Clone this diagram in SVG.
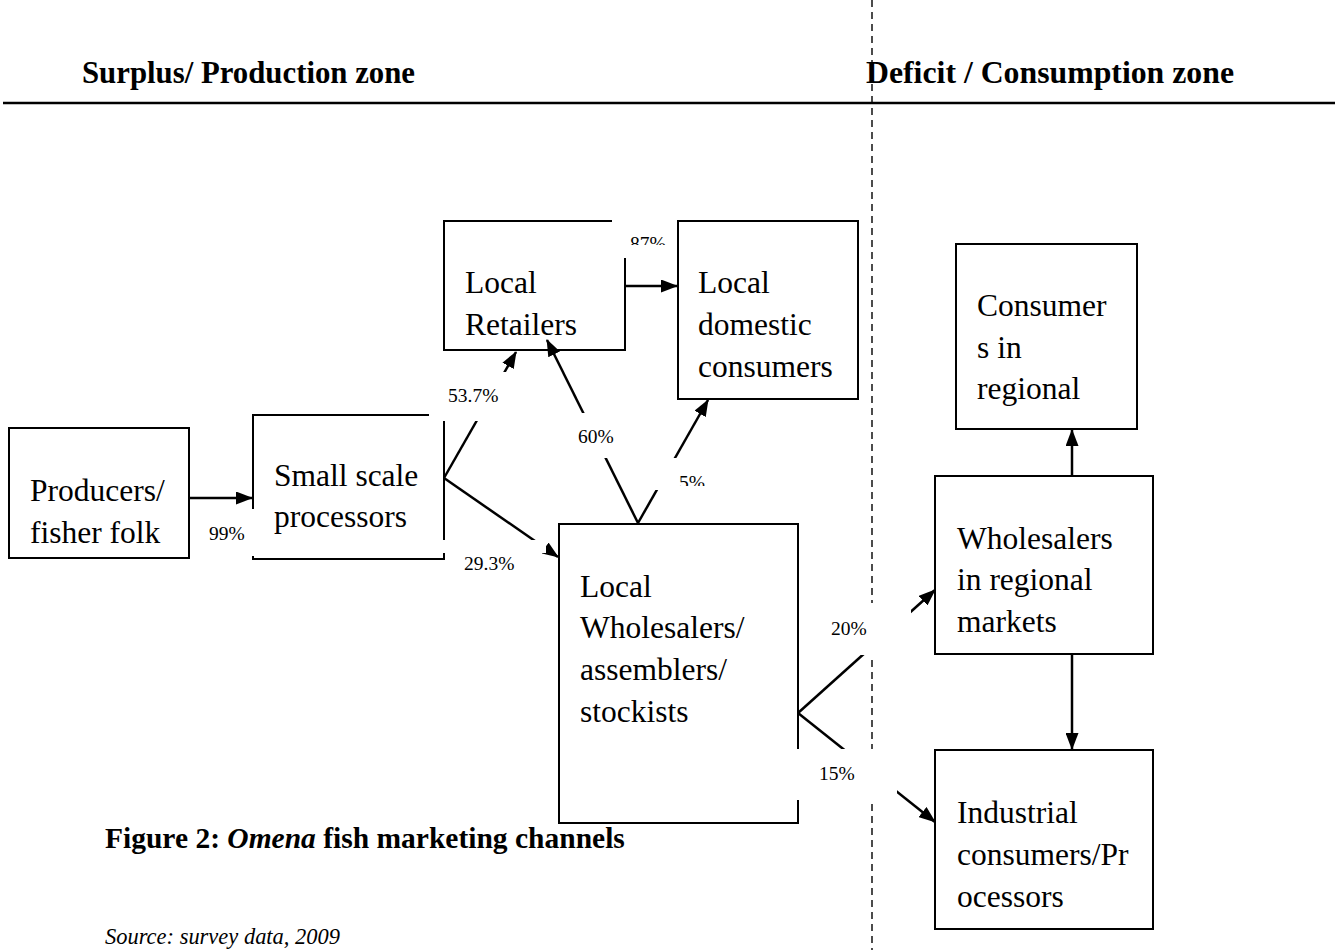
<svg xmlns="http://www.w3.org/2000/svg" width="1340" height="950" viewBox="0 0 1340 950">
<style>
.box{fill:none;stroke:#000;stroke-width:2}
.node{font-family:"Liberation Serif","Times New Roman",serif;font-size:31.5px;fill:#000}
.lbl{font-family:"Liberation Serif","Times New Roman",serif;font-size:19.5px;fill:#000}
.hdr{font-family:"Liberation Serif","Times New Roman",serif;font-size:31.5px;font-weight:bold;fill:#000}
.con{stroke:#000;stroke-width:2.5;fill:none;marker-end:url(#ah)}
.mask{fill:#fff;stroke:none}
</style>
<defs>
<marker id="ah" markerUnits="userSpaceOnUse" viewBox="0 0 17 13" markerWidth="17" markerHeight="13" refX="16" refY="6.5" orient="auto">
<path d="M0,0 L17,6.5 L0,13 z" fill="#000"/>
</marker>
<clipPath id="c87"><rect x="600" y="200" width="90" height="45"/></clipPath>
<clipPath id="c5"><rect x="650" y="450" width="80" height="36"/></clipPath>
</defs>
<rect width="1340" height="950" fill="#fff"/>

<g id="headers">
<text class="hdr" x="82" y="83" textLength="333" lengthAdjust="spacingAndGlyphs">Surplus/ Production zone</text>
<text class="hdr" x="866" y="83" textLength="368" lengthAdjust="spacingAndGlyphs">Deficit / Consumption zone</text>
<line x1="3" y1="103" x2="1335" y2="103" stroke="#000" stroke-width="2.5"/>
</g>

<g id="divider">
<line x1="872" y1="0" x2="872" y2="950" stroke="#000" stroke-width="1.4" stroke-dasharray="7,5"/>
</g>

<g id="producers">
<rect class="box" x="9" y="428" width="180" height="130"/>
<text class="node" x="30" y="501">Producers/</text>
<text class="node" x="30" y="543">fisher folk</text>
</g>

<g id="processors">
<rect class="box" x="253" y="415" width="191" height="144"/>
<text class="node" x="274" y="486">Small scale</text>
<text class="node" x="274" y="527">processors</text>
</g>

<g id="retailers">
<rect class="box" x="444" y="221" width="181" height="129"/>
<text class="node" x="465" y="293">Local</text>
<text class="node" x="465" y="335">Retailers</text>
</g>

<g id="domestic">
<rect class="box" x="678" y="221" width="180" height="178"/>
<text class="node" x="698" y="293">Local</text>
<text class="node" x="698" y="335">domestic</text>
<text class="node" x="698" y="377">consumers</text>
</g>

<g id="wholesalers">
<rect class="box" x="559" y="524" width="239" height="299"/>
<text class="node" x="580" y="597">Local</text>
<text class="node" x="580" y="638">Wholesalers/</text>
<text class="node" x="580" y="680">assemblers/</text>
<text class="node" x="580" y="722">stockists</text>
</g>

<g id="consumers-regional">
<rect class="box" x="956" y="244" width="181" height="185"/>
<text class="node" x="977" y="316">Consumer</text>
<text class="node" x="977" y="358">s in</text>
<text class="node" x="977" y="399">regional</text>
</g>

<g id="wholesalers-regional">
<rect class="box" x="935" y="476" width="218" height="178"/>
<text class="node" x="957" y="549">Wholesalers</text>
<text class="node" x="957" y="590">in regional</text>
<text class="node" x="957" y="632">markets</text>
</g>

<g id="industrial">
<rect class="box" x="935" y="750" width="218" height="179"/>
<text class="node" x="957" y="823">Industrial</text>
<text class="node" x="957" y="865">consumers/Pr</text>
<text class="node" x="957" y="907">ocessors</text>
</g>

<g id="connectors">
<line class="con" x1="189" y1="498" x2="252" y2="498"/>
<line class="con" x1="444" y1="478" x2="516" y2="352"/>
<line class="con" x1="444" y1="478" x2="558" y2="557"/>
<line class="con" x1="625" y1="286" x2="677" y2="286"/>
<line class="con" x1="638" y1="523" x2="547" y2="340"/>
<line class="con" x1="638" y1="523" x2="708" y2="400"/>
<line class="con" x1="798" y1="713" x2="935" y2="590"/>
<line class="con" x1="798" y1="713" x2="935" y2="822"/>
<line class="con" x1="1072" y1="476" x2="1072" y2="430"/>
<line class="con" x1="1072" y1="654" x2="1072" y2="749"/>
</g>

<g id="labels">
<rect class="mask" x="612" y="213" width="65" height="45"/>
<text class="lbl" x="630" y="250" clip-path="url(#c87)">87%</text>
<rect class="mask" x="429" y="372" width="83" height="49"/>
<text class="lbl" x="448" y="402">53.7%</text>
<rect class="mask" x="570" y="413" width="52" height="45"/>
<text class="lbl" x="578" y="443">60%</text>
<rect class="mask" x="655" y="458" width="63" height="32"/>
<text class="lbl" x="679" y="489" clip-path="url(#c5)">5%</text>
<rect class="mask" x="190" y="509" width="64" height="47"/>
<text class="lbl" x="209" y="540">99%</text>
<rect class="mask" x="442" y="540" width="104" height="13"/>
<text class="lbl" x="464" y="570">29.3%</text>
<rect class="mask" x="815" y="603" width="96" height="52"/>
<text class="lbl" x="831" y="635">20%</text>
<rect class="mask" x="797" y="749" width="100" height="51"/>
<text class="lbl" x="819" y="780">15%</text>
</g>

<g id="caption">
<text class="hdr" x="105" y="848" style="font-size:29.5px">Figure 2: <tspan font-style="italic">Omena</tspan> fish marketing channels</text>
<text x="105" y="944" textLength="235" lengthAdjust="spacingAndGlyphs" style="font-family:'Liberation Serif','Times New Roman',serif;font-size:23px;font-style:italic">Source: survey data, 2009</text>
</g>
</svg>
